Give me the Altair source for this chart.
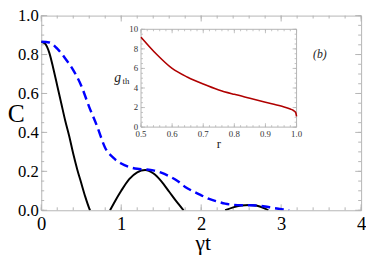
import altair as alt
import pandas as pd

# ---- main panel data (gamma t, concurrence C) ----
black_seg1_t = [0.0, 0.05, 0.1, 0.15, 0.2, 0.25, 0.3, 0.35, 0.4, 0.45, 0.5, 0.55, 0.6, 0.61]
black_seg1_c = [0.866, 0.855, 0.81, 0.73, 0.64, 0.55, 0.46, 0.38, 0.29, 0.21, 0.14, 0.07, 0.01, 0.0]
black_seg2_t = [0.86, 0.9, 1.0, 1.1, 1.2, 1.3, 1.4, 1.5, 1.6, 1.7, 1.78]
black_seg2_c = [0.0, 0.03, 0.1, 0.16, 0.195, 0.207, 0.19, 0.15, 0.095, 0.04, 0.0]
black_seg3_t = [2.3, 2.4, 2.5, 2.6, 2.7, 2.8, 2.84]
black_seg3_c = [0.0, 0.015, 0.024, 0.027, 0.023, 0.008, 0.0]

blue_t = [0.0, 0.1, 0.2, 0.3, 0.4, 0.5, 0.6, 0.7, 0.8, 0.9, 1.0, 1.1, 1.2, 1.3, 1.4, 1.5,
          1.6, 1.7, 1.8, 1.9, 2.0, 2.1, 2.2, 2.3, 2.4, 2.5, 2.6, 2.7, 2.8, 2.9, 3.0, 3.1]
blue_c = [0.866, 0.862, 0.83, 0.78, 0.72, 0.64, 0.53, 0.43, 0.32, 0.27, 0.24, 0.222, 0.213,
          0.21, 0.205, 0.193, 0.175, 0.152, 0.12, 0.097, 0.077, 0.058, 0.045, 0.034, 0.028,
          0.026, 0.026, 0.024, 0.019, 0.012, 0.006, 0.0]

x_major = [0, 1, 2, 3, 4]
x_minor = [i * 0.2 for i in range(21)]
y_major = [0.0, 0.2, 0.4, 0.6, 0.8, 1.0]
y_minor = [i * 0.05 for i in range(21)]

# ---- inset data (r, g_th) ----
inset_r = [0.5, 0.55, 0.6, 0.65, 0.7, 0.75, 0.8, 0.85, 0.9, 0.95, 0.98, 0.99, 0.997, 1.0]
inset_g = [9.2, 7.45, 6.0, 5.1, 4.4, 3.8, 3.35, 2.95, 2.55, 2.15, 1.85, 1.7, 1.5, 1.1]
inset_x_ticks = [0.5, 0.6, 0.7, 0.8, 0.9, 1.0]
inset_x_labels = ["0.5", "0.6", "0.7", "0.8", "0.9", "1.0"]
inset_x_minor = [0.5 + i * 0.02 for i in range(26)]
inset_y_ticks = [0, 2, 4, 6, 8, 10]
inset_y_labels = ["0", "2", "4", "6", "8", "10"]
inset_y_minor = [i * 0.5 for i in range(21)]

SERIF = "Liberation Serif, Times New Roman, serif"
FRAME = "#b4b4b4"
W, H = 327, 199

black_df = pd.DataFrame({
    "t": black_seg1_t + black_seg2_t + black_seg3_t,
    "C": black_seg1_c + black_seg2_c + black_seg3_c,
    "seg": [1] * len(black_seg1_t) + [2] * len(black_seg2_t) + [3] * len(black_seg3_t),
})
blue_df = pd.DataFrame({"t": blue_t, "C": blue_c})

xscale = alt.Scale(domain=[0, 4], nice=False)
yscale = alt.Scale(domain=[0, 1], nice=False)
xaxis = alt.Axis(values=x_major, format="d", ticks=False, domain=False, grid=False,
                 labelFont=SERIF, labelFontSize=19, labelColor="black", labelPadding=5,
                 labelFlush=False, labelOverlap=False,
                 title="γt", titleFont=SERIF, titleFontSize=22, titleFontWeight="normal",
                 titleColor="black", titleX=165, titleY=40, titleBaseline="alphabetic",
                 titleAlign="center")
yaxis = alt.Axis(values=y_major, format=".1f", ticks=False, domain=False, grid=False,
                 labelFont=SERIF, labelFontSize=17, labelColor="black", labelPadding=3,
                 labelFlush=False, labelOverlap=False,
                 title="C", titleFont=SERIF, titleFontSize=26, titleFontWeight="normal",
                 titleColor="black", titleAngle=0, titleX=-26, titleY=100,
                 titleBaseline="middle", titleAlign="center")

black = alt.Chart(black_df).mark_line(color="black", strokeWidth=2, interpolate="monotone",
                                      clip=True).encode(
    x=alt.X("t:Q", scale=xscale, axis=xaxis),
    y=alt.Y("C:Q", scale=yscale, axis=yaxis),
    detail="seg:N",
)
blue = alt.Chart(blue_df).mark_line(color="#0000ff", strokeWidth=2.5, strokeDash=[9, 5],
                                    interpolate="monotone", clip=True).encode(
    x=alt.X("t:Q", scale=xscale, axis=None),
    y=alt.Y("C:Q", scale=yscale, axis=None),
)

xmaj_df = pd.DataFrame({"t": x_major})
xmin_df = pd.DataFrame({"t": x_minor})
ymaj_df = pd.DataFrame({"C": y_major})
ymin_df = pd.DataFrame({"C": y_minor})


def xticks(df, length):
    bot = alt.Chart(df).mark_rule(color=FRAME, strokeWidth=1).encode(
        x=alt.X("t:Q", scale=xscale, axis=None), y=alt.value(H), y2=alt.value(H - length))
    top = alt.Chart(df).mark_rule(color=FRAME, strokeWidth=1).encode(
        x=alt.X("t:Q", scale=xscale, axis=None), y=alt.value(0), y2=alt.value(length))
    return [bot, top]


def yticks(df, length):
    left = alt.Chart(df).mark_rule(color=FRAME, strokeWidth=1).encode(
        y=alt.Y("C:Q", scale=yscale, axis=None), x=alt.value(0), x2=alt.value(length))
    right = alt.Chart(df).mark_rule(color=FRAME, strokeWidth=1).encode(
        y=alt.Y("C:Q", scale=yscale, axis=None), x=alt.value(W), x2=alt.value(W - length))
    return [left, right]


# ---- inset ----
ixs = alt.Scale(domain=[0.5, 1.0], range=[102, 261], nice=False, zero=False)
iys = alt.Scale(domain=[0, 10], range=[114, 14], nice=False, zero=False)

inset_df = pd.DataFrame({"r": inset_r, "g": inset_g})
frame_df = pd.DataFrame({"r": [0.5], "r2": [1.0], "g": [0], "g2": [10]})


def ix(f="r"):
    return alt.X(f"{f}:Q", scale=ixs, axis=None)


def iy(f="g"):
    return alt.Y(f"{f}:Q", scale=iys, axis=None)


frame = alt.Chart(frame_df).mark_rect(fill="white", fillOpacity=1, stroke=FRAME,
                                      strokeWidth=1).encode(
    x=ix(), x2="r2:Q", y=iy(), y2="g2:Q")

ixmaj = pd.DataFrame({"r": inset_x_ticks, "lab": inset_x_labels,
                      "g": [0] * len(inset_x_ticks)})
ixmin = pd.DataFrame({"r": inset_x_minor})
iymaj = pd.DataFrame({"g": inset_y_ticks, "lab": inset_y_labels,
                      "r": [0.5] * len(inset_y_ticks)})
iymin = pd.DataFrame({"g": inset_y_minor})


def ixt(df, length):
    b = alt.Chart(df).mark_rule(color=FRAME, strokeWidth=0.8).encode(
        x=ix(), y=alt.value(114), y2=alt.value(114 - length))
    t = alt.Chart(df).mark_rule(color=FRAME, strokeWidth=0.8).encode(
        x=ix(), y=alt.value(14), y2=alt.value(14 + length))
    return [b, t]


def iyt(df, length):
    l = alt.Chart(df).mark_rule(color=FRAME, strokeWidth=0.8).encode(
        y=iy(), x=alt.value(102), x2=alt.value(102 + length))
    r = alt.Chart(df).mark_rule(color=FRAME, strokeWidth=0.8).encode(
        y=iy(), x=alt.value(261), x2=alt.value(261 - length))
    return [l, r]


red = alt.Chart(inset_df).mark_line(color="#b00000", strokeWidth=1.6,
                                    interpolate="monotone").encode(x=ix(), y=iy())

ixlab = alt.Chart(ixmaj).mark_text(font=SERIF, fontSize=9, color="#333", baseline="top",
                                   dy=3).encode(x=ix(), y=iy(), text="lab:N")
iylab = alt.Chart(iymaj).mark_text(font=SERIF, fontSize=9, color="#333", align="right",
                                   baseline="middle", dx=-3).encode(
    x=ix(), y=iy(), text="lab:N")

annot_df = pd.DataFrame({
    "s": ["r", "g", "th", "(b)"],
    "r": [0.75, 0.5, 0.5, 1.075],
    "g": [0.0, 4.9, 4.9, 7.5],
})
r_title = alt.Chart(annot_df.iloc[[0]]).mark_text(
    font=SERIF, fontSize=13, color="#222", baseline="top", dy=11).encode(
    x=ix(), y=iy(), text="s:N")
g_title = alt.Chart(annot_df.iloc[[1]]).mark_text(
    font=SERIF, fontSize=14, fontStyle="italic", color="#222", align="center",
    baseline="middle", dx=-24, dy=-1).encode(x=ix(), y=iy(), text="s:N")
th_title = alt.Chart(annot_df.iloc[[2]]).mark_text(
    font=SERIF, fontSize=9, color="#222", align="left",
    baseline="middle", dx=-19, dy=2).encode(x=ix(), y=iy(), text="s:N")
b_label = alt.Chart(annot_df.iloc[[3]]).mark_text(
    font=SERIF, fontSize=12, fontStyle="italic", color="#222", align="center",
    baseline="middle").encode(x=ix(), y=iy(), text="s:N")

main_layers = (xticks(xmaj_df, 6) + xticks(xmin_df, 3) + yticks(ymaj_df, 6)
               + yticks(ymin_df, 3) + [black, blue])
inset_layers = ([frame] + ixt(ixmin, 2) + ixt(ixmaj, 4) + iyt(iymin, 2) + iyt(iymaj, 4)
                + [red, ixlab, iylab, r_title, g_title, th_title, b_label])

chart = alt.layer(*(main_layers + inset_layers)).resolve_scale(
    x="independent", y="independent").properties(
    width=W, height=H,
    autosize=alt.AutoSizeParams(type="none"),
    padding={"left": 34, "top": 5, "right": 5, "bottom": 45},
).configure_view(stroke=FRAME, strokeWidth=1).configure_axis(
    labelFont=SERIF, titleFont=SERIF).configure_text(font=SERIF)

chart.save("out.html", embed_options={"renderer": "svg", "actions": False})
